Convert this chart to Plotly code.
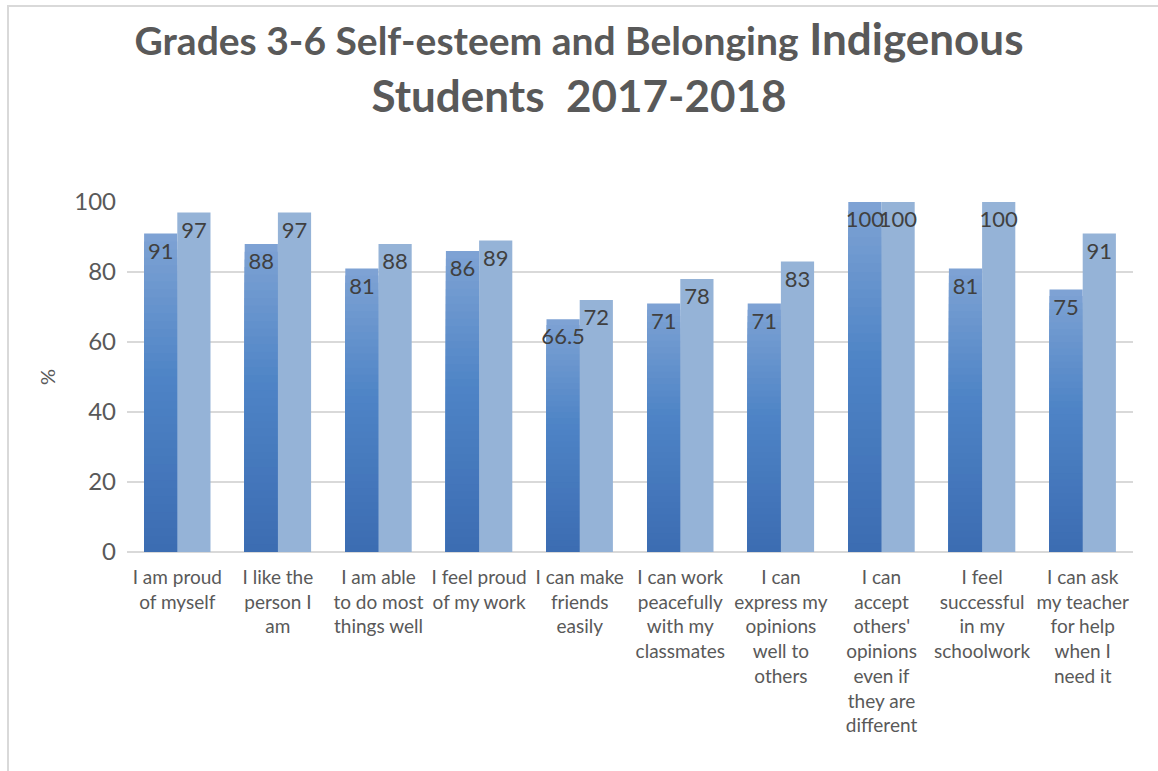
import plotly.graph_objects as go

categories = [
    "I am proud<br>of myself",
    "I like the<br>person I<br>am",
    "I am able<br>to do most<br>things well",
    "I feel proud<br>of my work",
    "I can make<br>friends<br>easily",
    "I can work<br>peacefully<br>with my<br>classmates",
    "I can<br>express my<br>opinions<br>well to<br>others",
    "I can<br>accept<br>others'<br>opinions<br>even if<br>they are<br>different",
    "I feel<br>successful<br>in my<br>schoolwork",
    "I can ask<br>my teacher<br>for help<br>when I<br>need it",
]
series_a = [91, 88, 81, 86, 66.5, 71, 71, 100, 81, 75]
series_b = [97, 97, 88, 89, 72, 78, 83, 100, 100, 91]
y_ticks = [0, 20, 40, 60, 80, 100]

W, H = 1158, 771
ML, MR, MT, MB = 127, 25, 202, 219
FONT = "Lato"

# gradient for first series: top (light) -> bottom (dark)
stops = [(0.0, (127, 163, 212)), (0.45, (78, 132, 198)), (1.0, (60, 108, 178))]


def grad_color(t):
    for (t0, c0), (t1, c1) in zip(stops[:-1], stops[1:]):
        if t <= t1:
            u = (t - t0) / (t1 - t0)
            c = [round(a + (b - a) * u) for a, b in zip(c0, c1)]
            return "rgb(%d,%d,%d)" % tuple(c)
    return "rgb(%d,%d,%d)" % stops[-1][1]


fig = go.Figure()
N = 40
for k in range(N):
    frac = 1 - k / N
    fig.add_trace(go.Bar(
        x=categories, y=[v * frac for v in series_a],
        offsetgroup="a", marker=dict(color=grad_color((k + 0.5) / N), line=dict(width=0)),
        showlegend=False, hoverinfo="skip",
    ))
fig.add_trace(go.Bar(
    x=categories, y=series_b, offsetgroup="b",
    marker=dict(color="#95b3d7", line=dict(width=0)),
    texttemplate="%{y}", textposition="inside", insidetextanchor="end",
    constraintext="none", textangle=0,
    textfont=dict(family=FONT, size=22, color="#404040"),
    showlegend=False, name="2017-2018",
))
# labels for first series (drawn last so they stay visible)
fig.add_trace(go.Bar(
    x=categories, y=series_a, offsetgroup="a",
    marker=dict(color="rgba(0,0,0,0)", line=dict(width=0)),
    texttemplate="%{y}", textposition="inside", insidetextanchor="end",
    constraintext="none", textangle=0,
    textfont=dict(family=FONT, size=22, color="#404040"),
    showlegend=False, name="2016-2017",
))

pw = W - ML - MR
ph = H - MT - MB


def px_x(p):
    return (p - ML) / pw


def px_y(p):
    return (H - MB - p) / ph


fig.update_layout(
    width=W, height=H,
    margin=dict(l=ML, r=MR, t=MT, b=MB, autoexpand=False),
    paper_bgcolor="white", plot_bgcolor="white",
    barmode="group", bargap=0.34, bargroupgap=0,
    font=dict(family=FONT, color="#595959"),
    title=dict(
        text="<b><span style='font-size:39px'>Grades 3-6 Self-esteem and Belonging</span> Indigenous<br>Students  2017-2018</b>",
        font=dict(family=FONT, size=44, color="#595959"),
        x=0.5, xref="container", xanchor="center",
        y=1 - 55 / H, yref="container", yanchor="top",
    ),
    xaxis=dict(
        tickfont=dict(family=FONT, size=19, color="#595959"),
        tickangle=0,
        showgrid=False, ticks="", ticklabelstandoff=12,
        showline=False,
    ),
    yaxis=dict(
        range=[0, 100], tickvals=y_ticks,
        tickfont=dict(family=FONT, size=24, color="#595959"),
        showgrid=True, gridcolor="#d9d9d9", gridwidth=1.5,
        zeroline=True, zerolinecolor="#d9d9d9", zerolinewidth=1.5,
        ticks="", ticklabelstandoff=10, showline=False,
        title=dict(text="%", font=dict(family=FONT, size=20, color="#595959"), standoff=13),
    ),
    hovermode=False,
    shapes=[
        dict(type="line", xref="paper", yref="paper",
             x0=px_x(7), x1=px_x(W), y0=px_y(6), y1=px_y(6),
             line=dict(color="#d9d9d9", width=2)),
        dict(type="line", xref="paper", yref="paper",
             x0=px_x(8), x1=px_x(8), y0=px_y(6), y1=px_y(H),
             line=dict(color="#d9d9d9", width=2)),
    ],
)

fig.write_html("out.html", config={"displayModeBar": False},
               post_script="document.body.style.margin='0';")
